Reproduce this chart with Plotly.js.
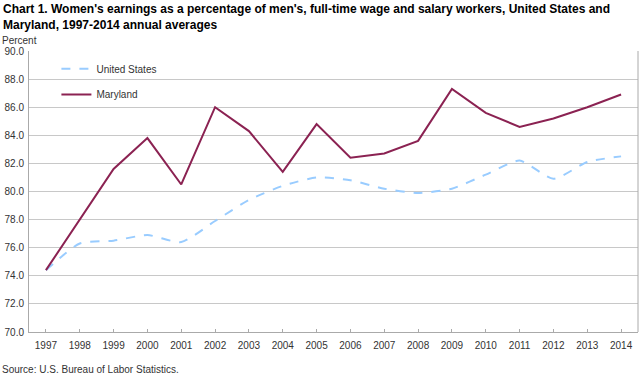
<!DOCTYPE html>
<html><head><meta charset="utf-8">
<script src="https://cdn.plot.ly/plotly-3.0.1.min.js"></script>
<style>body{margin:0;padding:0;background:#fff}#chart{width:641px;height:374px}</style>
</head><body><div id="chart"></div>
<script>
const years = ['1997','1998','1999','2000','2001','2002','2003','2004','2005','2006','2007','2008','2009','2010','2011','2012','2013','2014'];
const unitedStates = [74.4,76.3,76.5,76.9,76.4,77.9,79.4,80.4,81.0,80.8,80.2,79.9,80.2,81.2,82.2,80.9,82.1,82.5];
const maryland = [74.4,78.0,81.6,83.8,80.5,86.0,84.3,81.4,84.8,82.4,82.7,83.6,87.3,85.6,84.6,85.2,86.0,86.9];
const yTicks = [70,72,74,76,78,80,82,84,86,88,90];

const font = 'Arial, "Liberation Sans", sans-serif';
const traces = [
  {x: years, y: unitedStates, name: 'United States', type: 'scatter', mode: 'lines',
   line: {color: '#99CCFF', width: 2, dash: 'dash', shape: 'spline', smoothing: 0.6}, legend: 'legend'},
  {x: years, y: maryland, name: 'Maryland', type: 'scatter', mode: 'lines',
   line: {color: '#8B2252', width: 2}, legend: 'legend2'}
];
const layout = {
  width: 641, height: 374,
  margin: {l: 29, r: 3, t: 51, b: 42},
  paper_bgcolor: '#fff', plot_bgcolor: '#fff',
  font: {family: font, size: 10, color: '#333'},
  showlegend: true,
  xaxis: {type: 'category', range: [-0.5, years.length - 0.5], tickvals: years, ticktext: years, showgrid: false,
    showline: true, linecolor: '#aaa', linewidth: 1, ticks: 'inside', ticklen: 3, tickcolor: '#aaa',
    tickfont: {size: 10, color: '#333'}, mirror: false, fixedrange: true, zeroline: false, ticklabelstandoff: 4},
  yaxis: {range: [70, 90], tickvals: yTicks, ticktext: yTicks.map(v => v.toFixed(1)),
    showgrid: true, gridcolor: '#c8c8c8', gridwidth: 1, showline: true, linecolor: '#aaa',
    ticks: '', tickfont: {size: 10, color: '#333'}, zeroline: false, ticklabelstandoff: 2},
  legend: {x: 0.045, y: 0.937, xanchor: 'left', yanchor: 'middle', bgcolor: 'rgba(0,0,0,0)',
    font: {size: 10, color: '#333'}, itemwidth: 30, tracegroupgap: 0},
  legend2: {x: 0.045, y: 0.845, xanchor: 'left', yanchor: 'middle', bgcolor: 'rgba(0,0,0,0)',
    font: {size: 10, color: '#333'}, itemwidth: 30},
  annotations: [
    {text: "<b>Chart 1. Women's earnings as a percentage of men's, full-time wage and salary workers, United States and<br>Maryland, 1997-2014 annual averages</b>",
     xref: 'paper', yref: 'paper', x: -0.046, y: 1.182, xanchor: 'left', yanchor: 'top', align: 'left',
     showarrow: false, font: {family: font, size: 12, color: '#000'}},
    {text: 'Percent', xref: 'paper', yref: 'paper', x: -0.047, y: 1.039, xanchor: 'left', yanchor: 'middle',
     showarrow: false, font: {size: 10, color: '#333'}},
    {text: 'Source: U.S. Bureau of Labor Statistics.', xref: 'paper', yref: 'paper', x: -0.047, y: -0.135,
     xanchor: 'left', yanchor: 'middle', showarrow: false, font: {size: 10, color: '#333'}}
  ],
  shapes: [
    {type: 'line', xref: 'paper', yref: 'paper', x0: 1, x1: 1, y0: 0, y1: 1, line: {color: '#aaa', width: 1}}
  ]
};
Plotly.newPlot('chart', traces, layout, {displayModeBar: false, staticPlot: true});
</script></body></html>
